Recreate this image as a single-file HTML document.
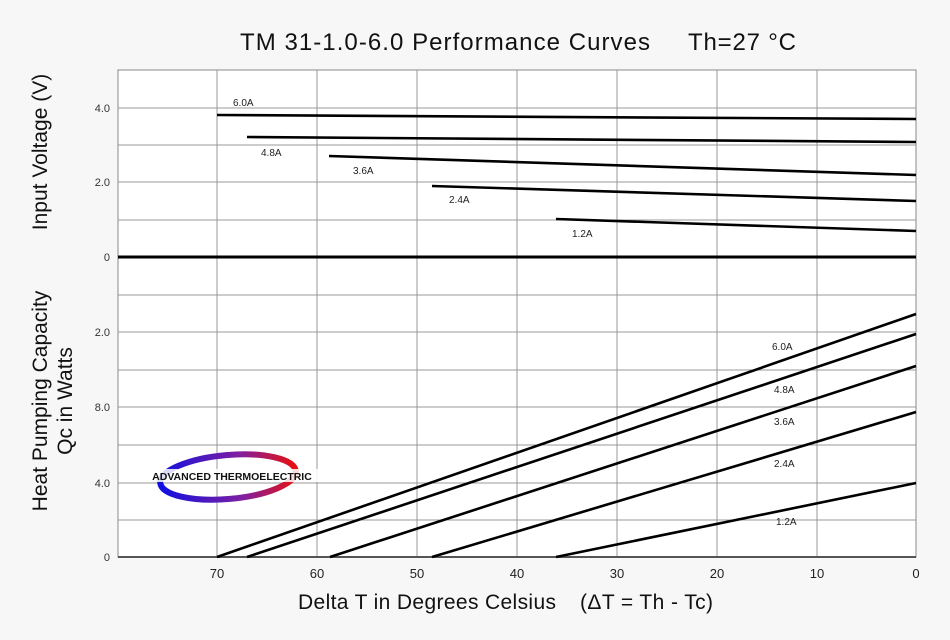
<!DOCTYPE html>
<html><head><meta charset="utf-8"><style>
body{margin:0;background:#f7f7f7;}
svg{display:block;font-family:"Liberation Sans",sans-serif;}
</style></head><body>
<svg width="950" height="640" viewBox="0 0 950 640" xmlns="http://www.w3.org/2000/svg">
<defs><linearGradient id="g" x1="0" x2="1"><stop offset="0" stop-color="#1010e0"/><stop offset="0.6" stop-color="#8020a0"/><stop offset="1" stop-color="#e81010"/></linearGradient></defs>
<rect width="950" height="640" fill="#f7f7f7"/>
<rect x="118" y="70" width="798" height="487" fill="#fff" stroke="#888" stroke-width="1"/>
<g stroke="#999" stroke-width="1">
<line x1="217" y1="70" x2="217" y2="557"/><line x1="317" y1="70" x2="317" y2="557"/><line x1="417" y1="70" x2="417" y2="557"/><line x1="517" y1="70" x2="517" y2="557"/><line x1="617" y1="70" x2="617" y2="557"/><line x1="717" y1="70" x2="717" y2="557"/><line x1="817" y1="70" x2="817" y2="557"/>
<line x1="118" y1="108" x2="916" y2="108"/><line x1="118" y1="145" x2="916" y2="145"/><line x1="118" y1="182" x2="916" y2="182"/><line x1="118" y1="220" x2="916" y2="220"/><line x1="118" y1="295" x2="916" y2="295"/><line x1="118" y1="332" x2="916" y2="332"/><line x1="118" y1="370" x2="916" y2="370"/><line x1="118" y1="407" x2="916" y2="407"/><line x1="118" y1="445" x2="916" y2="445"/><line x1="118" y1="483" x2="916" y2="483"/><line x1="118" y1="520" x2="916" y2="520"/>
</g>
<line x1="118" y1="257" x2="916" y2="257" stroke="#000" stroke-width="3"/>
<line x1="118" y1="557" x2="916" y2="557" stroke="#555" stroke-width="2"/>
<g stroke="#000" stroke-width="2.6" fill="none">
<line x1="217" y1="115" x2="916" y2="119"/><line x1="247" y1="137" x2="916" y2="142"/><line x1="329" y1="156" x2="916" y2="175"/><line x1="432" y1="186" x2="916" y2="201"/><line x1="556" y1="219" x2="916" y2="231"/>
<line x1="217" y1="557" x2="916" y2="314"/><line x1="247" y1="557" x2="916" y2="334"/><line x1="330" y1="557" x2="916" y2="366"/><line x1="432" y1="557" x2="916" y2="412"/><line x1="556" y1="557" x2="916" y2="483"/>
</g>
<g font-size="10" fill="#222">
<text x="233" y="106">6.0A</text><text x="261" y="156">4.8A</text><text x="353" y="174">3.6A</text><text x="449" y="203">2.4A</text><text x="572" y="237">1.2A</text>
<text x="772" y="350">6.0A</text><text x="774" y="393">4.8A</text><text x="774" y="425">3.6A</text><text x="774" y="467">2.4A</text><text x="776" y="525">1.2A</text>
</g>
<g font-size="11" fill="#333" text-anchor="end">
<text x="110" y="112">4.0</text><text x="110" y="186">2.0</text><text x="110" y="261">0</text><text x="110" y="336">2.0</text><text x="110" y="411">8.0</text><text x="110" y="487">4.0</text><text x="110" y="561">0</text>
</g>
<g font-size="13" fill="#222" text-anchor="middle">
<text x="217" y="578">70</text><text x="317" y="578">60</text><text x="417" y="578">50</text><text x="517" y="578">40</text><text x="617" y="578">30</text><text x="717" y="578">20</text><text x="817" y="578">10</text><text x="916" y="578">0</text>
</g>
<text x="240" y="50" font-size="24" fill="#111" textLength="410" lengthAdjust="spacing">TM 31-1.0-6.0 Performance Curves</text>
<text x="688" y="50" font-size="24" fill="#111" textLength="108" lengthAdjust="spacing">Th=27 °C</text>
<text x="298" y="609" font-size="21" fill="#111" textLength="258" lengthAdjust="spacing">Delta T in Degrees Celsius</text>
<text x="580" y="609" font-size="21" fill="#111" textLength="133" lengthAdjust="spacing">(ΔT = Th - Tc)</text>
<text transform="translate(47,152) rotate(-90)" text-anchor="middle" font-size="21" fill="#111">Input Voltage (V)</text>
<text transform="translate(47,401) rotate(-90)" text-anchor="middle" font-size="21" fill="#111">Heat Pumping Capacity</text>
<text transform="translate(72,401) rotate(-90)" text-anchor="middle" font-size="21" fill="#111">Qc in Watts</text>
<ellipse cx="228" cy="477" rx="68" ry="22" fill="none" stroke="url(#g)" stroke-width="6" transform="rotate(-5 228 477)"/>
<rect x="146" y="469" width="172" height="13" fill="#fff" opacity="0.85"/>
<text x="232" y="480" text-anchor="middle" font-size="10.5" font-weight="bold" fill="#111">ADVANCED THERMOELECTRIC</text>
</svg>
</body></html>
